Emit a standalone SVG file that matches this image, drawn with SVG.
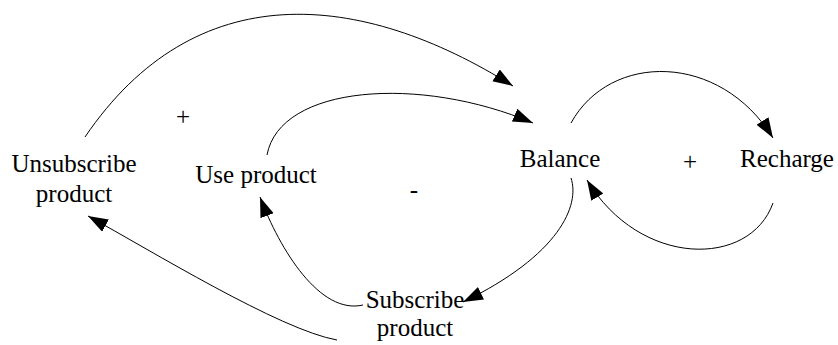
<svg xmlns="http://www.w3.org/2000/svg" width="838" height="345" viewBox="0 0 838 345">
<style>
text{font-family:"Liberation Serif","Times New Roman",serif;font-size:25px;fill:#000;text-anchor:middle}
.c{fill:none;stroke:#000;stroke-width:1}
</style>
<defs>
<marker id="ah" markerUnits="userSpaceOnUse" markerWidth="22" markerHeight="16" refX="20" refY="7" orient="auto">
<path d="M0,0 L20,7 L0,14 z" fill="#000"/>
</marker>
</defs>
<rect width="838" height="345" fill="#fff"/>
<g id="connectors">
<path class="c" marker-end="url(#ah)" d="M85,137 C195,-25 360,-10 513,86"/>
<path class="c" marker-end="url(#ah)" d="M267,155 C280,85 420,75 533,123"/>
<path class="c" marker-end="url(#ah)" d="M571,123 C610,52 720,52 773,138"/>
<path class="c" marker-end="url(#ah)" d="M773,203 C750,268 640,268 587,180"/>
<path class="c" marker-end="url(#ah)" d="M571,178 C580,205 560,255 463,302"/>
<path class="c" marker-end="url(#ah)" d="M363,305 C320,315 280,250 260,197"/>
<path class="c" marker-end="url(#ah)" d="M337,340 C280,330 150,250 88,216"/>
</g>
<g id="unsubscribe"><text x="74" y="172">Unsubscribe</text><text x="74" y="202">product</text></g>
<g id="use"><text x="256" y="183">Use product</text></g>
<g id="balance"><text x="560" y="167">Balance</text></g>
<g id="recharge"><text x="787" y="167">Recharge</text></g>
<g id="subscribe"><text x="415" y="308">Subscribe</text><text x="415" y="336">product</text></g>
<g id="signs"><text x="183" y="125">+</text><text x="690" y="170">+</text><text x="414" y="198">-</text></g>
</svg>
